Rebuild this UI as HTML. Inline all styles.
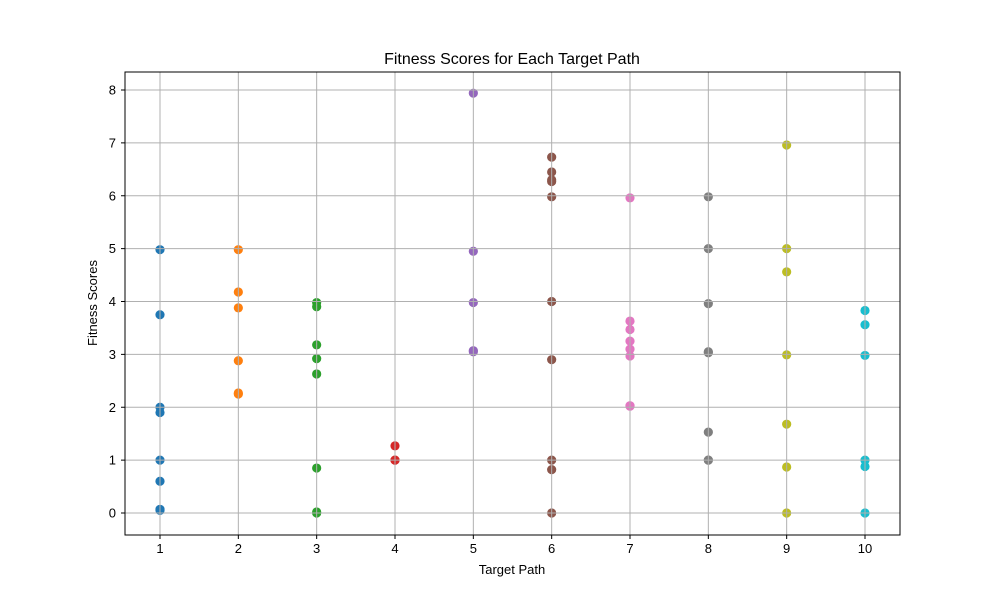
<!DOCTYPE html>
<html><head><meta charset="utf-8"><style>body{margin:0;background:#fff}</style></head>
<body>
<svg id="chart" width="1000" height="600" xmlns="http://www.w3.org/2000/svg" font-family="Liberation Sans, DejaVu Sans, sans-serif">
<rect width="1000" height="600" fill="#fff"/>
<g id="marks"></g>
<g id="grid"></g>
<rect x="125" y="72" width="775" height="463" fill="none" stroke="#000" stroke-width="1"/>
<g id="ticks"></g>
<text x="512" y="64" text-anchor="middle" font-size="16">Fitness Scores for Each Target Path</text>
<text x="512" y="574" text-anchor="middle" font-size="13">Target Path</text>
<text x="97" y="303" text-anchor="middle" font-size="13" transform="rotate(-90 97 303)">Fitness Scores</text>
</svg>
<script>
const paths = [1,2,3,4,5,6,7,8,9,10];
const scores1 = [4.98,3.75,2.0,1.9,1.0,0.6,0.05,0.07];
const scores2 = [4.98,4.18,3.88,2.88,2.27,2.25];
const scores3 = [3.98,3.9,3.18,2.92,2.63,0.85,0.02,0.0];
const scores4 = [1.27,1.0,1.0];
const scores5 = [7.94,4.95,3.98,3.07,3.05];
const scores6 = [6.73,6.45,6.3,6.27,5.98,4.0,2.9,1.0,0.82,0.0];
const scores7 = [5.96,3.63,3.47,3.25,3.1,2.97,2.03,2.02];
const scores8 = [5.98,5.0,3.96,3.05,3.03,1.53,1.0,1.0];
const scores9 = [6.96,5.0,4.56,2.99,1.68,0.87,0.0];
const scores10 = [3.83,3.56,2.98,1.0,0.88,0.0];
const xTicks = [1,2,3,4,5,6,7,8,9,10];
const yTicks = [0,1,2,3,4,5,6,7,8];
const colors = ['#1f77b4','#ff7f0e','#2ca02c','#d62728','#9467bd','#8c564b','#e377c2','#7f7f7f','#bcbd22','#17becf'];
const allScores = [scores1,scores2,scores3,scores4,scores5,scores6,scores7,scores8,scores9,scores10];
const NS='http://www.w3.org/2000/svg';
function xs(v){return 160+(v-1)*(705/9);}
function ys(v){return 513-v*(423/8);}
const grid=document.getElementById('grid'),ticks=document.getElementById('ticks'),marks=document.getElementById('marks');
function mk(tag,attrs,parent){const e=document.createElementNS(NS,tag);for(const k in attrs)e.setAttribute(k,attrs[k]);parent.appendChild(e);return e;}
xTicks.forEach(t=>{
  const g=mk('line',{x1:xs(t),x2:xs(t),y1:72,y2:535,stroke:'#b0b0b0','stroke-width':1},grid);
  
  
  mk('line',{x1:xs(t),x2:xs(t),y1:535,y2:539,stroke:'#000'},ticks);
  const l=mk('text',{x:xs(t),y:553,'text-anchor':'middle','font-size':13},ticks);
  l.textContent=t;
  
  
});
yTicks.forEach(t=>{
  const g=mk('line',{x1:125,x2:900,y1:ys(t),y2:ys(t),stroke:'#b0b0b0','stroke-width':1},grid);
  
  
  mk('line',{x1:121,x2:125,y1:ys(t),y2:ys(t),stroke:'#000'},ticks);
  const l=mk('text',{x:116,y:ys(t)+4.5,'text-anchor':'end','font-size':13},ticks);
  l.textContent=t;
  
  
});
paths.forEach((p,i)=>{
  allScores[i].forEach(v=>{
    const c=mk('circle',{cx:xs(p),cy:ys(v),r:4.6,fill:colors[i]},marks);
    
    
  });
});
</script>
</body></html>
